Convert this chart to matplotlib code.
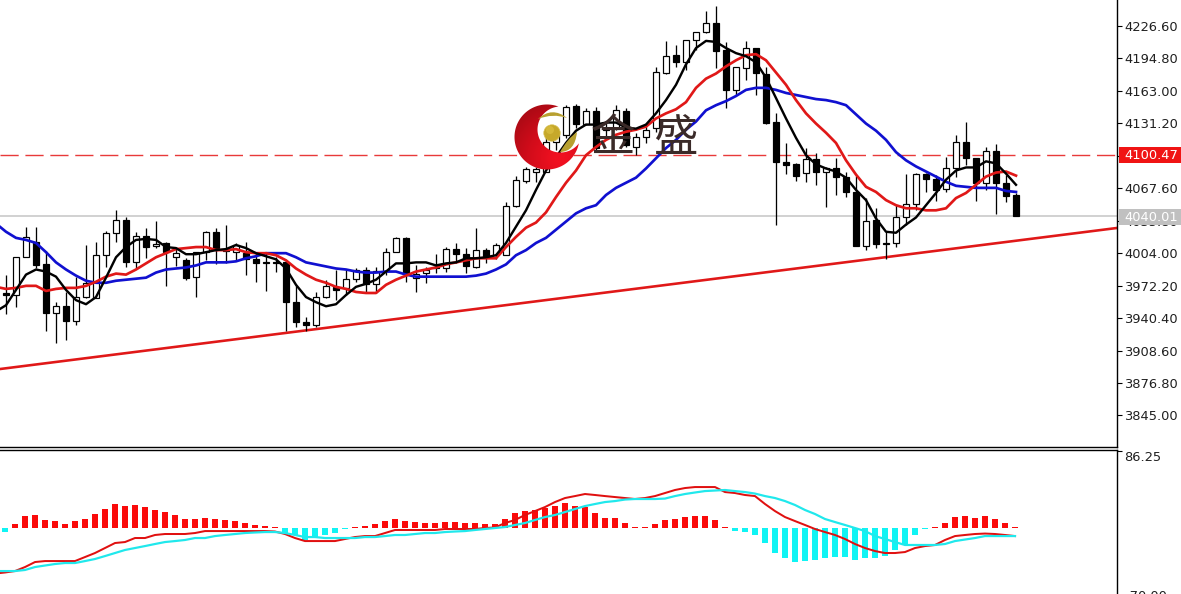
import numpy as np
import matplotlib
matplotlib.use("Agg")
import matplotlib.pyplot as plt
from matplotlib.colors import LinearSegmentedColormap
from matplotlib.patches import Circle, PathPatch, Polygon, Rectangle
from matplotlib.path import Path

# candles
opens = [3965, 3963, 4000, 4015, 3993, 3945, 3952, 3938, 3961, 3960,
         4002, 4024, 4037, 3995, 4021, 4011, 4014, 4000, 3997, 3981,
         4005, 4025, 4007, 4005, 4004, 3998, 3995, 3995, 3995, 3956,
         3937, 3934, 3961, 3971, 3970, 3979, 3988, 3974, 3987, 4005,
         4019, 3980, 3985, 3990, 3989, 4008, 4003, 3990, 4007, 4002,
         4002, 4050, 4075, 4084, 4084, 4113, 4120, 4148, 4131, 4143,
         4127, 4127, 4143, 4108, 4118, 4127, 4181, 4198, 4191, 4213,
         4221, 4230, 4203, 4164, 4185, 4205, 4180, 4133, 4093, 4091,
         4083, 4096, 4084, 4087, 4079, 4064, 4011, 4037, 4014, 4014,
         4039, 4052, 4082, 4077, 4067, 4087, 4113, 4097, 4073, 4104,
         4073, 4061]
highs = [3983, 4000, 4030, 4030, 4006, 3956, 3966, 3981, 4012, 4015,
         4026, 4046, 4039, 4025, 4029, 4036, 4015, 4009, 3999, 4005,
         4026, 4029, 4032, 4014, 4015, 4005, 4004, 4000, 3997, 3973,
         3941, 3966, 3978, 3988, 3988, 3989, 3990, 3990, 4009, 4020,
         4020, 3992, 3990, 4003, 4010, 4014, 4009, 4029, 4009, 4014,
         4054, 4080, 4088, 4088, 4125, 4125, 4149, 4150, 4146, 4147,
         4132, 4149, 4146, 4122, 4132, 4186, 4212, 4208, 4213, 4221,
         4241, 4246, 4211, 4186, 4212, 4205, 4186, 4141, 4112, 4092,
         4107, 4102, 4088, 4097, 4084, 4080, 4058, 4048, 4025, 4051,
         4082, 4083, 4083, 4081, 4098, 4120, 4133, 4097, 4108, 4111,
         4081, 4063]
lows = [3944, 3951, 4000, 3989, 3928, 3916, 3919, 3934, 3960, 3960,
        3990, 4015, 3990, 3989, 3999, 4009, 3972, 3991, 3978, 3961,
        3997, 3993, 3994, 3996, 3983, 3976, 3967, 3986, 3928, 3932,
        3928, 3932, 3960, 3958, 3963, 3976, 3965, 3965, 3983, 4005,
        3976, 3966, 3975, 3985, 3986, 3994, 3985, 3989, 3994, 3998,
        4002, 4049, 4073, 4074, 4084, 4105, 4117, 4127, 4130, 4105,
        4119, 4125, 4108, 4100, 4112, 4123, 4180, 4186, 4183, 4203,
        4220, 4185, 4146, 4159, 4174, 4159, 4131, 4032, 4082, 4075,
        4074, 4071, 4049, 4061, 4059, 4011, 4007, 4009, 3998, 4010,
        4032, 4046, 4064, 4055, 4064, 4079, 4090, 4055, 4066, 4042,
        4054, 4040]
closes = [3963, 4000, 4020, 3992, 3945, 3952, 3938, 3961, 3975, 4002,
          4024, 4037, 3995, 4021, 4010, 4013, 4005, 4004, 3980, 4005,
          4025, 4009, 4006, 4012, 3998, 3994, 3994, 3994, 3956, 3937,
          3934, 3961, 3972, 3968, 3979, 3988, 3974, 3987, 4005, 4019,
          3985, 3984, 3988, 3989, 4008, 4003, 3991, 4007, 4000, 4012,
          4050, 4076, 4086, 4086, 4113, 4120, 4147, 4131, 4143, 4107,
          4125, 4144, 4110, 4118, 4125, 4182, 4197, 4191, 4213, 4221,
          4230, 4202, 4164, 4186, 4205, 4181, 4132, 4093, 4090, 4080,
          4096, 4084, 4087, 4079, 4064, 4011, 4036, 4013, 4013, 4039,
          4052, 4082, 4077, 4066, 4087, 4113, 4097, 4073, 4104, 4073,
          4060, 4040]

# moving averages (first value sits one bar left of the first candle)
ma_black = [3947, 3953, 3968, 3983, 3988, 3986, 3981, 3968, 3958, 3954, 3961,
            3980, 4000, 4010, 4017, 4018, 4017, 4010, 4009, 4003, 4003,
            4005, 4007, 4008, 4012, 4009, 4004, 4001, 3998, 3989, 3973,
            3961, 3956, 3952, 3954, 3963, 3971, 3974, 3978, 3986, 3994,
            3994, 3995, 3995, 3992, 3994, 3995, 3999, 3999, 4000, 4002,
            4014, 4030, 4046, 4066, 4085, 4098, 4112, 4124, 4130, 4130,
            4132, 4132, 4127, 4126, 4130, 4141, 4154, 4169, 4189, 4205,
            4212, 4211, 4205, 4200, 4197, 4191, 4176, 4156, 4136, 4117,
            4100, 4091, 4087, 4084, 4078, 4066, 4056, 4038, 4025, 4024,
            4032, 4039, 4051, 4063, 4076, 4085, 4088, 4088, 4094, 4092,
            4082, 4071]
ma_red = [3971, 3969, 3970, 3972, 3972, 3967, 3969, 3970, 3970, 3972, 3976,
          3981, 3984, 3983, 3988, 3994, 4000, 4004, 4008, 4009, 4010,
          4010, 4007, 4007, 4008, 4005, 4004, 4004, 4002, 3997, 3989,
          3983, 3978, 3975, 3971, 3969, 3966, 3965, 3965, 3973, 3978,
          3982, 3986, 3988, 3990, 3993, 3995, 3997, 3999, 3999, 3999,
          4010, 4020, 4029, 4034, 4044, 4059, 4073, 4085, 4100, 4108,
          4115, 4120, 4123, 4125, 4128, 4136, 4141, 4145, 4152, 4166,
          4175, 4180, 4187, 4193, 4198, 4199, 4193, 4181, 4169, 4154,
          4141, 4131, 4122, 4112, 4095, 4081, 4069, 4064, 4056, 4051,
          4048, 4048, 4046, 4046, 4048, 4058, 4063, 4071, 4079, 4083,
          4084, 4080]
ma_blue = [4033, 4025, 4019, 4017, 4014, 4005, 3995, 3988, 3982, 3977, 3975,
           3975, 3977, 3978, 3979, 3980, 3985, 3988, 3989, 3990, 3992,
           3995, 3995, 3995, 3996, 3999, 4001, 4004, 4004, 4004, 4000,
           3995, 3993, 3991, 3989, 3988, 3986, 3985, 3985, 3986, 3986,
           3983, 3981, 3981, 3981, 3981, 3981, 3981, 3982, 3984, 3988,
           3993, 4002, 4007, 4014, 4019, 4027, 4035, 4043, 4048, 4051,
           4061, 4068, 4073, 4078, 4087, 4097, 4107, 4115, 4125, 4133,
           4144, 4149, 4153, 4158, 4164, 4166, 4166, 4164, 4161, 4159,
           4157, 4155, 4154, 4152, 4149, 4140, 4131, 4124, 4115, 4103,
           4095, 4089, 4084, 4079, 4074, 4070, 4069, 4068, 4068, 4068,
           4065, 4064]

# macd pane
hist = [-4.5, 4.5, 13.4, 14.6, 9, 7.8, 4.5, 7.8, 10.1, 15.7,
        21.3, 26.9, 24.6, 25.8, 23.5, 20.2, 17.9, 14.6, 10.1, 10.1,
        11.2, 10.1, 9, 7.8, 5.6, 3.4, 2.2, 1.1, -5.6, -7.8,
        -13.4, -10.1, -7.8, -5.6, -1.1, 1.1, 2.2, 4.5, 7.8, 10.1,
        7.8, 6.7, 5.6, 5.6, 6.7, 6.7, 5.6, 5.6, 4.5, 4.5,
        10.1, 16.8, 19, 20.2, 22.4, 24.6, 28, 24.6, 23.5, 16.8,
        11.2, 11.2, 5.6, 1.1, 0.6, 4.5, 9, 10.1, 12.3, 13.4,
        13.4, 9, 0.6, -3.4, -3.9, -7.8, -16.8, -28, -33.6, -38.1,
        -37, -35.8, -33.6, -32.5, -32.5, -35.8, -33.6, -33.6, -31.4, -24.6,
        -19, -7.8, -1.1, 1.1, 5.6, 12.3, 13.4, 11.2, 13.4, 10.1,
        5.6, 0.8]
macd_red = [-51, -49.8, -48.2, -43.7, -38.1, -37, -37, -37, -37, -32.5, -28,
            -22.4, -16.8, -15.7, -11.2, -11.2, -7.8, -6.7, -6.7, -6.7, -5.6,
            -3.4, -3.4, -3.4, -3.4, -3.4, -3.4, -3.4, -3.9, -6.7, -11.2,
            -14.6, -14.6, -14.6, -14.6, -12.3, -10.1, -9, -9, -5.6, -2.2,
            -2.2, -2.2, -2.2, -2.2, -1.1, -1.1, -1.1, -1.1, 0, 0.6,
            5.6, 9, 14.6, 19, 23.5, 29.1, 33.6, 35.8, 38.1, 37,
            35.8, 34.7, 33.6, 32.5, 33.6, 35.8, 39.2, 42.6, 44.8, 45.9,
            45.9, 45.9, 40.3, 39.2, 37, 35.8, 26.9, 19, 12.3, 7.8,
            3.4, -1.1, -4.5, -7.8, -12.3, -17.9, -22.4, -25.8, -28, -28,
            -26.9, -22.4, -20.2, -19, -13.4, -9, -7.8, -6.7, -6.2, -6.7,
            -7.8, -9]
macd_cyan = [-48.2, -48.2, -48.2, -47, -43.7, -42, -40.3, -39.2, -39.2, -37, -34.7,
             -31.4, -28, -24.6, -22.4, -20.2, -17.9, -15.7, -14.6, -13.4, -11.2,
             -11.2, -9, -7.8, -6.7, -5.6, -5, -4.5, -4.5, -5.6, -7.8,
             -10.1, -10.1, -11.2, -11.2, -11.2, -11.2, -10.1, -10.1, -9, -7.8,
             -7.8, -6.7, -5.6, -5.6, -4.5, -3.9, -3.4, -2.2, -1.1, 0,
             1.1, 3.4, 5.6, 9, 12.3, 14.6, 17.9, 21.3, 24.6, 26.9,
             29.1, 30.2, 31.9, 32.5, 32.5, 32.5, 33, 35.8, 38.1, 39.8,
             41.4, 42, 42.6, 41.4, 40.3, 38.6, 35.8, 33.6, 30.2, 25.8,
             20.2, 15.7, 10.1, 6.7, 3.4, 0, -3.4, -9, -12.3, -15.7,
             -19, -19, -19, -19, -17.9, -14.6, -12.9, -11.2, -9, -9,
             -9, -9]

price_ticks = [4226.60, 4194.80, 4163.00, 4131.20, 4099.40, 4067.60, 4035.80,
               4004.00, 3972.20, 3940.40, 3908.60, 3876.80, 3845.00]
trend_prices = [3890.5, 4028.7]
stop_price = 4100.47
last_price = 4040.01
macd_top = 86.25

W, H = 1181, 594
fig = plt.figure(figsize=(W / 100, H / 100), dpi=100, facecolor="white")
px = 0.72  # one pixel in points

# ---------------------------------------------------------------------
# Price pane
# ---------------------------------------------------------------------
ax = fig.add_axes([0, (H - 447) / H, 1117 / W, 447 / H])
ax.set_xlim(-0.6, 111.1)
ax.set_ylim(3814.1, 4252.07)

n = len(opens)
bars = np.arange(n)
line_x = np.arange(-1, n)
o, c = np.array(opens), np.array(closes)

ax.axhline(last_price, color="#c4c4c4", lw=1.5 * px, zorder=1)
ax.plot(ax.get_xlim(), trend_prices, color="#e01818", lw=2.6 * px, zorder=2)
ax.axhline(stop_price, color="#e83a3a", lw=1.4 * px, dashes=(13, 4.8), zorder=2)

ax.vlines(bars, lows, highs, color="black", lw=1.3 * px, zorder=3)
colors = ["white" if cl >= op else "black" for op, cl in zip(o, c)]
ax.bar(bars, np.maximum(np.abs(c - o), 0.8), bottom=np.minimum(o, c), width=0.55,
       color=colors, edgecolor="black", linewidth=1.2 * px, zorder=4)

ax.plot(line_x, ma_blue, color="#1010d0", lw=2.7 * px, zorder=5)
ax.plot(line_x, ma_red, color="#e01818", lw=2.7 * px, zorder=6)
ax.plot(line_x, ma_black, color="black", lw=2.4 * px, zorder=7)

for name in ["top", "left"]:
    ax.spines[name].set_visible(False)
for name in ["right", "bottom"]:
    ax.spines[name].set_linewidth(1.4 * px)
ax.set_xticks([])
ax.yaxis.tick_right()
ax.set_yticks(price_ticks)
ax.set_yticklabels([f"{t:.2f}" for t in price_ticks])
ax.tick_params(axis="y", length=5 * px, width=1.1 * px, pad=1.5, labelsize=9.4,
               labelcolor="#202020")

# ---------------------------------------------------------------------
# MACD pane
# ---------------------------------------------------------------------
sub = fig.add_axes([0, 0, 1117 / W, (H - 450) / H])
sub.set_xlim(-0.5, 111.2)
sub.set_ylim(-73.9, 87.4)
hist_colors = ["#fa0a0a" if v >= 0 else "#10f4f4" for v in hist]
sub.bar(bars, hist, width=0.55, color=hist_colors, linewidth=0, zorder=2)
sub.plot(line_x, macd_red, color="#e01010", lw=2.0 * px, zorder=3)
sub.plot(line_x, macd_cyan, color="#20e8ec", lw=2.2 * px, zorder=4)
for name in ["left", "bottom"]:
    sub.spines[name].set_visible(False)
for name in ["top", "right"]:
    sub.spines[name].set_linewidth(1.4 * px)
sub.set_xticks([])
sub.yaxis.tick_right()
sub.set_yticks([macd_top])
sub.set_yticklabels([f"{macd_top:.2f}"], va="top")
sub.tick_params(axis="y", length=5 * px, width=1.1 * px, pad=1.5, labelsize=9.4,
                labelcolor="#202020")

# ---------------------------------------------------------------------
# Overlay in pixels: price flags, cut-off label and the logo
# ---------------------------------------------------------------------
ov = fig.add_axes([0, 0, 1, 1], zorder=10)
ov.patch.set_visible(False)
ov.axis("off")

ov.add_patch(Rectangle((1119, 147), 62, 16, color="#f01414", lw=0))
ov.text(1124, 155.5, f"{stop_price:.2f}", color="white", fontsize=9.4, va="center")
ov.add_patch(Rectangle((1119, 209), 62, 16, color="#c0c0c0", lw=0))
ov.text(1124, 217.5, f"{last_price:.2f}", color="white", fontsize=9.4, va="center")
ov.text(1125, 590, "-70.00", color="#202020", fontsize=9.4, va="top", clip_on=True)

# crescent: big circle with a smaller one taken out
c1, r1 = np.array([547.0, 137.0]), 32.5
c2, r2 = np.array([560.5, 129.5]), 23.0
th = np.linspace(0, 2 * np.pi, 720, endpoint=False)
ring1 = c1 + r1 * np.c_[np.cos(th), np.sin(th)]
ring2 = c2 + r2 * np.c_[np.cos(th), np.sin(th)]
keep1 = np.hypot(*(ring1 - c2).T) > r2
keep2 = np.hypot(*(ring2 - c1).T) < r1
arc1 = np.roll(ring1, -np.argmax(keep1 & ~np.roll(keep1, 1)), axis=0)[:keep1.sum()]
arc2 = np.roll(ring2, -np.argmax(keep2 & ~np.roll(keep2, 1)), axis=0)[:keep2.sum()]
crescent = Polygon(np.vstack([arc1, arc2[::-1]]), closed=True, transform=ov.transData,
                   facecolor="none", edgecolor="none")
ov.add_patch(crescent)

gx, gy = np.meshgrid(np.linspace(514, 581, 120), np.linspace(104, 170, 120))
glow = np.hypot(gx - 560, gy - 158) / 60
cmap = LinearSegmentedColormap.from_list("logo", ["#f01020", "#d00c1a", "#a80a14"])
im = ov.imshow(glow, extent=(514, 581, 170, 104), cmap=cmap, vmin=0.1, vmax=1,
               aspect="auto", interpolation="bilinear")
im.set_clip_path(crescent)

ov.add_patch(Circle((552, 133), 8.2, facecolor="#c6a82a", edgecolor="#d8c050", lw=0.5))
ov.add_patch(Circle((550, 130), 4, facecolor="#d4b83a", lw=0))
top_leaf = Path([(538, 119), (552, 106), (567, 118), (553, 113), (538, 119)],
                [Path.MOVETO, Path.CURVE3, Path.CURVE3, Path.CURVE3, Path.CURVE3])
low_leaf = Path([(560, 152), (575, 152), (577, 132), (568, 138), (560, 152)],
                [Path.MOVETO, Path.CURVE3, Path.CURVE3, Path.CURVE3, Path.CURVE3])
ov.add_patch(PathPatch(top_leaf, facecolor="#b8a030", lw=0))
ov.add_patch(PathPatch(low_leaf, facecolor="#b8a030", lw=0))

logo_font = ["Noto Sans CJK SC", "DejaVu Sans"]
ov.text(613, 137.5, "金", family=logo_font, fontsize=32, color="#3a2a28",
        ha="center", va="center")
ov.text(675, 137.5, "盛", family=logo_font, fontsize=32, color="#3a2a28",
        ha="center", va="center")

ov.set_xlim(0, W)
ov.set_ylim(H, 0)

fig.savefig("out.png", dpi=100)
